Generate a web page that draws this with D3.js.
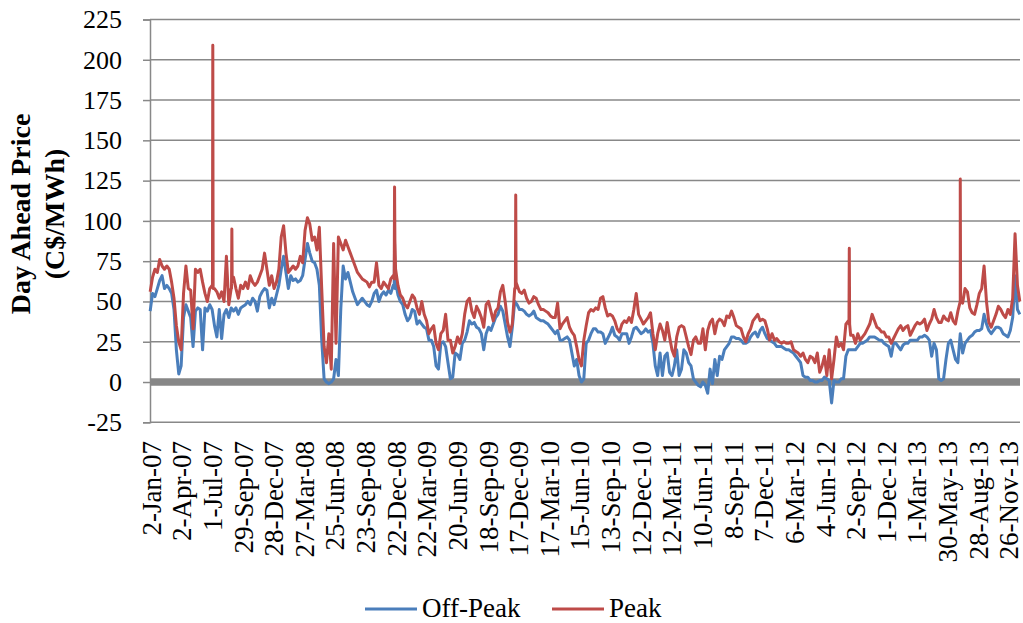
<!DOCTYPE html>
<html><head><meta charset="utf-8">
<script src="https://cdn.jsdelivr.net/npm/d3@7"></script>
<style>body{margin:0;background:#fff}svg{display:block}</style>
</head><body>
<svg id="c" width="1023" height="623"></svg>
<script>
const startDate = "2007-01-02";
const stepDays = 7;
const offPeak = [44,55,53,58,63,66,58,60,58,55,45,20,5,10,40,48,44,40,22,44,46,45,20,46,44,48,45,35,28,45,27,42,45,40,46,44,46,42,46,47,48,50,48,52,50,44,53,56,58,57,46,52,48,54,60,70,78,68,58,66,63,64,62,63,66,76,86,80,75,74,70,60,26,2,0,-1,0,2,14,4,45,72,64,68,62,56,52,48,50,52,50,48,47,50,55,57,50,54,56,54,57,55,60,62,54,50,48,42,38,40,45,44,36,38,36,34,33,26,26,22,10,8,24,25,22,12,2,3,18,17,14,24,26,31,38,36,37,34,33,30,20,30,34,32,36,40,42,47,44,36,28,22,34,50,48,45,45,44,42,41,42,44,40,39,38,38,37,36,34,32,30,32,26,26,27,28,26,18,10,14,4,0,2,24,26,30,33,33,31,31,30,24,27,30,34,29,28,26,30,30,30,24,28,33,34,32,30,31,33,31,32,24,10,4,18,4,16,18,6,4,10,20,4,8,20,18,12,10,2,0,-2,-3,0,-2,-7,8,-1,14,4,16,14,20,22,24,28,28,27,27,26,24,24,25,28,30,31,28,32,34,30,27,26,25,24,22,22,22,21,20,20,19,18,16,14,12,4,3,3,1,1,0,0,1,1,3,2,1,-13,1,0,0,2,2,16,20,20,20,20,22,24,24,25,26,28,28,28,27,26,26,24,23,22,16,24,24,22,20,23,24,24,26,26,26,26,28,28,29,28,26,16,24,20,2,1,2,14,24,26,20,14,12,30,18,24,26,28,29,31,32,32,33,42,36,32,30,32,34,34,33,30,29,28,32,40,66,45,42];
const peak = [56,65,70,68,76,72,70,72,70,62,52,35,25,20,55,72,58,57,33,70,68,70,62,55,50,58,60,58,56,52,56,50,78,48,58,65,58,52,60,58,62,58,66,62,60,62,66,70,80,70,60,66,58,62,70,90,97,80,68,70,72,70,72,78,74,94,102,98,88,90,82,96,58,22,12,30,8,86,24,90,86,82,88,84,80,76,72,68,66,64,63,62,59,62,62,74,60,58,62,60,58,64,66,70,60,54,52,48,46,50,54,52,46,42,50,42,38,30,33,35,24,20,30,32,42,26,26,18,22,28,24,30,42,50,52,44,40,47,44,40,34,48,50,44,38,44,46,56,60,50,37,31,36,58,60,56,55,57,52,49,50,53,52,48,45,45,44,43,41,40,40,49,33,36,38,40,34,31,29,22,14,10,26,35,43,45,44,46,45,52,53,46,41,42,41,38,33,31,36,38,37,40,37,45,55,42,39,36,38,40,43,30,20,30,36,32,26,37,28,20,16,28,34,35,34,28,22,17,26,28,24,24,33,20,32,37,39,30,37,39,38,35,41,40,44,40,35,34,33,28,25,30,33,38,40,42,38,39,38,33,26,30,26,27,25,24,25,24,24,25,20,19,18,16,18,14,12,16,15,12,18,6,10,16,4,20,2,14,28,22,24,20,36,38,29,29,24,30,26,28,30,33,36,42,38,34,33,31,31,28,28,24,27,30,33,35,32,34,35,29,32,35,37,36,37,39,32,36,39,45,40,37,37,41,39,38,43,38,36,44,50,49,58,56,46,43,42,48,55,58,72,50,37,34,38,42,47,45,42,40,45,42,52,92,60,50];
const offPeakSpikes = [["2008-12-19",60],["2008-12-20",86],["2008-12-21",58]];
const peakSpikes = [["2007-07-04",60],["2007-07-05",209],["2007-07-06",58],
  ["2007-08-29",58],["2007-08-30",95],["2007-08-31",62],
  ["2008-12-19",64],["2008-12-20",121],["2008-12-21",88],
  ["2009-12-10",58],["2009-12-11",116],["2009-12-12",62],
  ["2012-08-16",36],["2012-08-17",83],["2012-08-18",36],
  ["2013-07-09",126],["2013-07-10",52]];
const xTickLabels = ["2-Jan-07","2-Apr-07","1-Jul-07","29-Sep-07","28-Dec-07","27-Mar-08","25-Jun-08","23-Sep-08","22-Dec-08","22-Mar-09","20-Jun-09","18-Sep-09","17-Dec-09","17-Mar-10","15-Jun-10","13-Sep-10","12-Dec-10","12-Mar-11","10-Jun-11","8-Sep-11","7-Dec-11","6-Mar-12","4-Jun-12","2-Sep-12","1-Dec-12","1-Mar-13","30-May-13","28-Aug-13","26-Nov-13"];
const yTicks = [-25,0,25,50,75,100,125,150,175,200,225];
const seriesNames = ["Off-Peak","Peak"];
const seriesColors = ["#4a7ebb","#be4b48"];
const yTitle = ["Day Ahead Price","(C$/MWh)"];

const svg = d3.select("#c");
const font = "'Liberation Serif','Times New Roman',serif";
const L = 150, R = 1020, T = 19.5, B = 422.3;
const parse = d3.timeParse("%Y-%m-%d");
const parseLbl = d3.timeParse("%d-%b-%y");
const t0 = parse(startDate);
const tEnd = d3.timeDay.offset(t0, (offPeak.length - 1) * stepDays);

const x = d3.scaleTime().domain([d3.timeHour.offset(t0, -12), d3.timeHour.offset(tEnd, 12)]).range([L, R]);
const y = d3.scaleLinear().domain([-25, 225]).range([B, T]);

function build(weekly, spikes) {
  const pts = weekly.map((v, i) => ({d: d3.timeDay.offset(t0, i * stepDays), v}));
  spikes.forEach(([s, v]) => pts.push({d: parse(s), v}));
  pts.sort((a, b) => a.d - b.d);
  return pts;
}
const series = [build(offPeak, offPeakSpikes), build(peak, peakSpikes)];

// gridlines
svg.append("g").selectAll("line").data(yTicks.filter(t => t !== 0 && t !== -25)).join("line")
  .attr("x1", L).attr("x2", R).attr("y1", d => y(d)).attr("y2", d => y(d))
  .attr("stroke", "#888").attr("stroke-width", 1.5);

// zero band
svg.append("line").attr("x1", L).attr("x2", R).attr("y1", y(0)).attr("y2", y(0))
  .attr("stroke", "#878787").attr("stroke-width", 7.5);

// y axis
const yAxis = svg.append("g").attr("transform", `translate(${L},0)`)
  .call(d3.axisLeft(y).tickValues(yTicks).tickSize(7).tickPadding(21).tickFormat(d => String(d)));
yAxis.select(".domain").attr("stroke", "#888").attr("stroke-width", 1.5);
yAxis.selectAll(".tick line").attr("stroke", "#888").attr("stroke-width", 1.5);
yAxis.selectAll("text").attr("font-family", font).attr("font-size", 26).attr("fill", "#000");

// x axis line
svg.append("line").attr("x1", L).attr("x2", R).attr("y1", B).attr("y2", B)
  .attr("stroke", "#888").attr("stroke-width", 1.5);

// x labels
svg.append("g").selectAll("text").data(xTickLabels).join("text")
  .attr("transform", d => `translate(${x(parseLbl(d)) + 1},441) rotate(-90)`)
  .attr("text-anchor", "end").attr("dy", "0.35em")
  .attr("font-family", font).attr("font-size", 27).attr("fill", "#000")
  .text(d => d);

// lines
const line = d3.line().x(d => x(d.d)).y(d => y(d.v));
series.forEach((s, i) => {
  svg.append("path").datum(s).attr("d", line).attr("fill", "none")
    .attr("stroke", seriesColors[i]).attr("stroke-width", 3)
    .attr("stroke-linejoin", "round");
});

// y title
yTitle.forEach((t, i) => {
  svg.append("text").attr("transform", `translate(${30 + i * 34},214) rotate(-90)`)
    .attr("text-anchor", "middle").attr("font-family", font).attr("font-weight", "bold")
    .attr("font-size", 28).attr("fill", "#000").text(t);
});

// legend
const legX = [365, 552];
seriesNames.forEach((n, i) => {
  svg.append("line").attr("x1", legX[i]).attr("x2", legX[i] + 52).attr("y1", 609).attr("y2", 609)
    .attr("stroke", seriesColors[i]).attr("stroke-width", 3);
  svg.append("text").attr("x", legX[i] + 57).attr("y", 617).attr("font-family", font)
    .attr("font-size", 27).attr("fill", "#000").text(n);
});
</script>
</body></html>
